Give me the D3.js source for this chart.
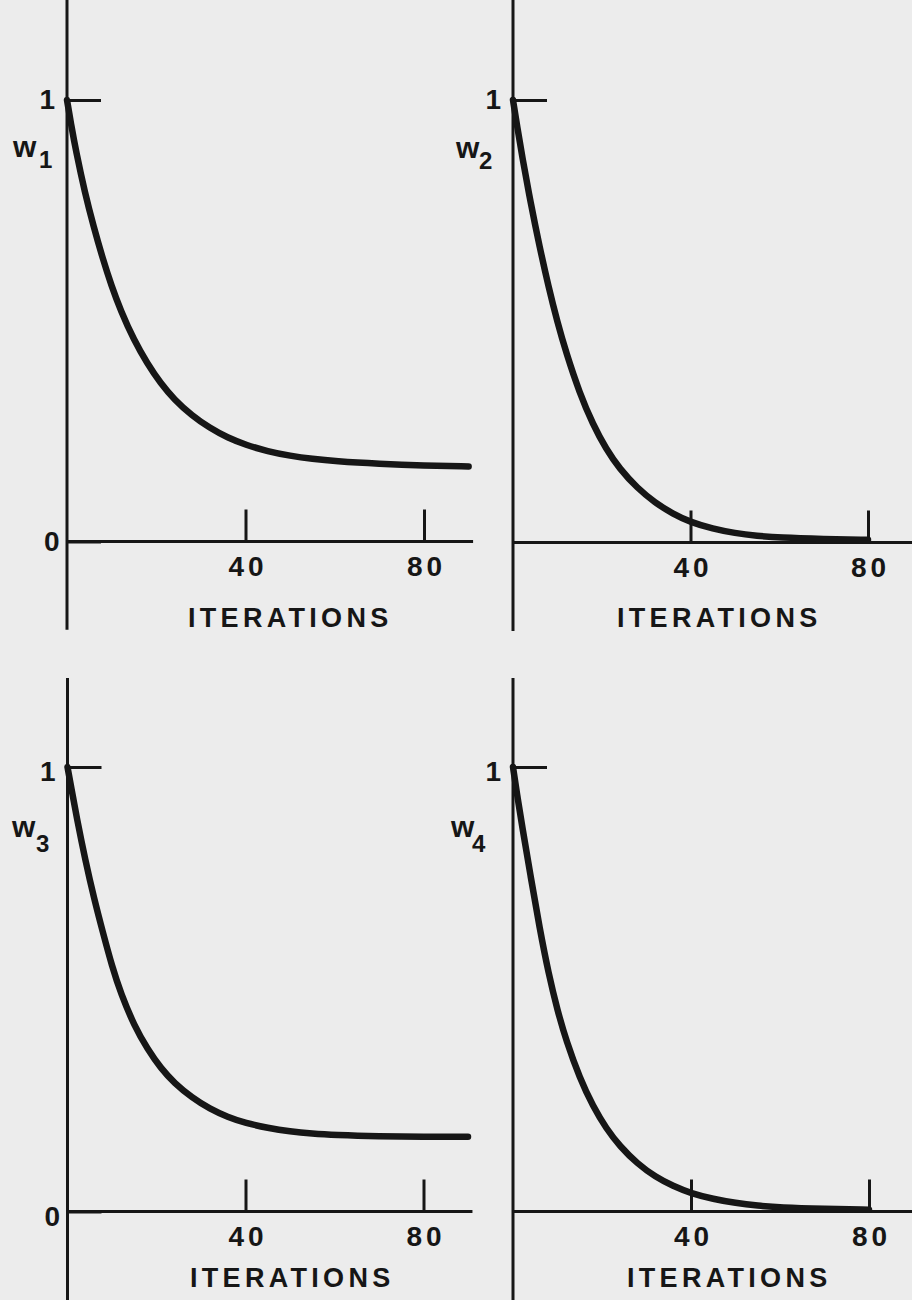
<!DOCTYPE html>
<html>
<head>
<meta charset="utf-8">
<script src="https://cdn.jsdelivr.net/npm/d3@7"></script>
<style>
  html, body { margin: 0; padding: 0; background: #ececec; }
  svg { display: block; }
  text { font-family: "Liberation Sans", Arial, sans-serif; font-weight: bold; fill: #161616; }
</style>
</head>
<body>
<svg id="chart" width="912" height="1300"></svg>
<script>
// Iteration counts at which each weight was sampled
const iterations = [0, 1, 2, 4, 6, 8, 10, 12, 15, 18, 21, 24, 28, 32, 36, 40, 45, 50, 55, 60, 70, 80, 90];

// Weight trajectories (null = not plotted past 80 iterations)
const w1 = [1.000, 0.940, 0.885, 0.790, 0.712, 0.641, 0.578, 0.524, 0.456, 0.403, 0.358, 0.322, 0.285, 0.257, 0.235, 0.219, 0.204, 0.194, 0.187, 0.182, 0.176, 0.172, 0.170];
const w2 = [1.000, 0.937, 0.876, 0.766, 0.668, 0.578, 0.498, 0.428, 0.338, 0.267, 0.211, 0.167, 0.123, 0.090, 0.065, 0.046, 0.031, 0.021, 0.015, 0.011, 0.008, 0.006, null];
const w3 = [1.000, 0.945, 0.890, 0.790, 0.703, 0.626, 0.552, 0.490, 0.418, 0.365, 0.322, 0.289, 0.256, 0.231, 0.2125, 0.199, 0.188, 0.180, 0.175, 0.172, 0.169, 0.168, 0.168];
const w4 = [1.000, 0.933, 0.870, 0.752, 0.636, 0.535, 0.452, 0.383, 0.300, 0.236, 0.186, 0.147, 0.107, 0.078, 0.057, 0.041, 0.028, 0.019, 0.013, 0.009, 0.006, 0.004, null];

const seriesValues = [w1, w2, w3, w4];
const seriesSymbol = "w";
const seriesSubscripts = ["1", "2", "3", "4"];

// Axis ticks and labels
const xTickValues = [40, 80];
const xTickLabels = ["40", "80"];
const yTickValuesLeft = [0, 1];
const yTickValuesRight = [1];
const yTickLabels = { 0: "0", 1: "1" };
const xTitle = "ITERATIONS";

// Panel geometry (pixel layout of each small plot)
const panels = [
  { x0: 67,   x80: 424,   y0: 541.5,  y1: 100, yTop: 1.24, yBot: -0.2,  yTicks: yTickValuesLeft,  labelDy: 0,
    sym: [13, 157], sub: [39, 168], title: [188, 627] },
  { x0: 513,  x80: 868,   y0: 542.5,  y1: 100, yTop: 1.24, yBot: -0.2,  yTicks: yTickValuesRight, labelDy: 0,
    sym: [456, 158], sub: [479, 169], title: [617, 627] },
  { x0: 67.5, x80: 423.5, y0: 1211.5, y1: 767, yTop: 1.2,  yBot: -0.21, yTicks: yTickValuesLeft,  labelDy: 5,
    sym: [12, 837], sub: [36, 852], title: [190, 1287] },
  { x0: 513,  x80: 869,   y0: 1211.5, y1: 767, yTop: 1.2,  yBot: -0.21, yTicks: yTickValuesRight, labelDy: 5,
    sym: [451, 837], sub: [472, 852], title: [627, 1287] }
];

const ink = "#161616";
const svg = d3.select("#chart");

panels.forEach((p, i) => {
  const g = svg.append("g");
  const x = d3.scaleLinear().domain([0, 80]).range([p.x0, p.x80]);
  const y = d3.scaleLinear().domain([0, 1]).range([p.y0, p.y1]);

  // Axis lines
  g.append("line")
    .attr("x1", x(0)).attr("x2", x(0))
    .attr("y1", y(p.yBot)).attr("y2", y(p.yTop))
    .attr("stroke", ink).attr("stroke-width", 3);
  g.append("line")
    .attr("x1", x(0)).attr("x2", x(91))
    .attr("y1", y(0)).attr("y2", y(0))
    .attr("stroke", ink).attr("stroke-width", 3);

  // X ticks pointing up into the plot
  const xAxis = d3.axisBottom(x)
    .tickValues(xTickValues)
    .tickFormat((d, k) => xTickLabels[k])
    .tickSizeInner(-32).tickSizeOuter(0).tickPadding(15);
  const gx = g.append("g").attr("transform", `translate(0,${y(0)})`).call(xAxis);
  gx.select(".domain").remove();
  gx.selectAll(".tick line").attr("stroke", ink).attr("stroke-width", 3);
  gx.selectAll(".tick text")
    .attr("font-size", 28).attr("letter-spacing", 4).attr("dx", 2)
    .attr("fill", ink);

  // Y tick at 1 pointing right
  const yAxis = d3.axisLeft(y)
    .tickValues(p.yTicks)
    .tickFormat(d => yTickLabels[d])
    .tickSizeInner(-34).tickSizeOuter(0).tickPadding(12);
  const gy = g.append("g").attr("transform", `translate(${x(0)},0)`).call(yAxis);
  gy.select(".domain").remove();
  gy.selectAll(".tick line").attr("stroke", ink).attr("stroke-width", 3);
  gy.selectAll(".tick text")
    .attr("font-size", 28).attr("fill", ink)
    .attr("x", d => d === 0 ? -7.5 : -12)
    .attr("dy", d => `${0.32 * 28 + p.labelDy}px`);

  // Weight curve
  const pts = iterations.map((t, k) => [t, seriesValues[i][k]]);
  const line = d3.line()
    .defined(d => d[1] !== null)
    .x(d => x(d[0])).y(d => y(d[1]))
    .curve(d3.curveBasis);
  g.append("path")
    .attr("d", line(pts))
    .attr("fill", "none").attr("stroke", ink)
    .attr("stroke-width", 6.5)
    .attr("stroke-linecap", "round").attr("stroke-linejoin", "round");

  // Series label w with subscript
  g.append("text").attr("x", p.sym[0]).attr("y", p.sym[1])
    .attr("font-size", 30).text(seriesSymbol);
  g.append("text").attr("x", p.sub[0]).attr("y", p.sub[1])
    .attr("font-size", 24).text(seriesSubscripts[i]);

  // X axis title
  g.append("text").attr("x", p.title[0]).attr("y", p.title[1])
    .attr("font-size", 27).attr("letter-spacing", 4.3).text(xTitle);
});
</script>
</body>
</html>
